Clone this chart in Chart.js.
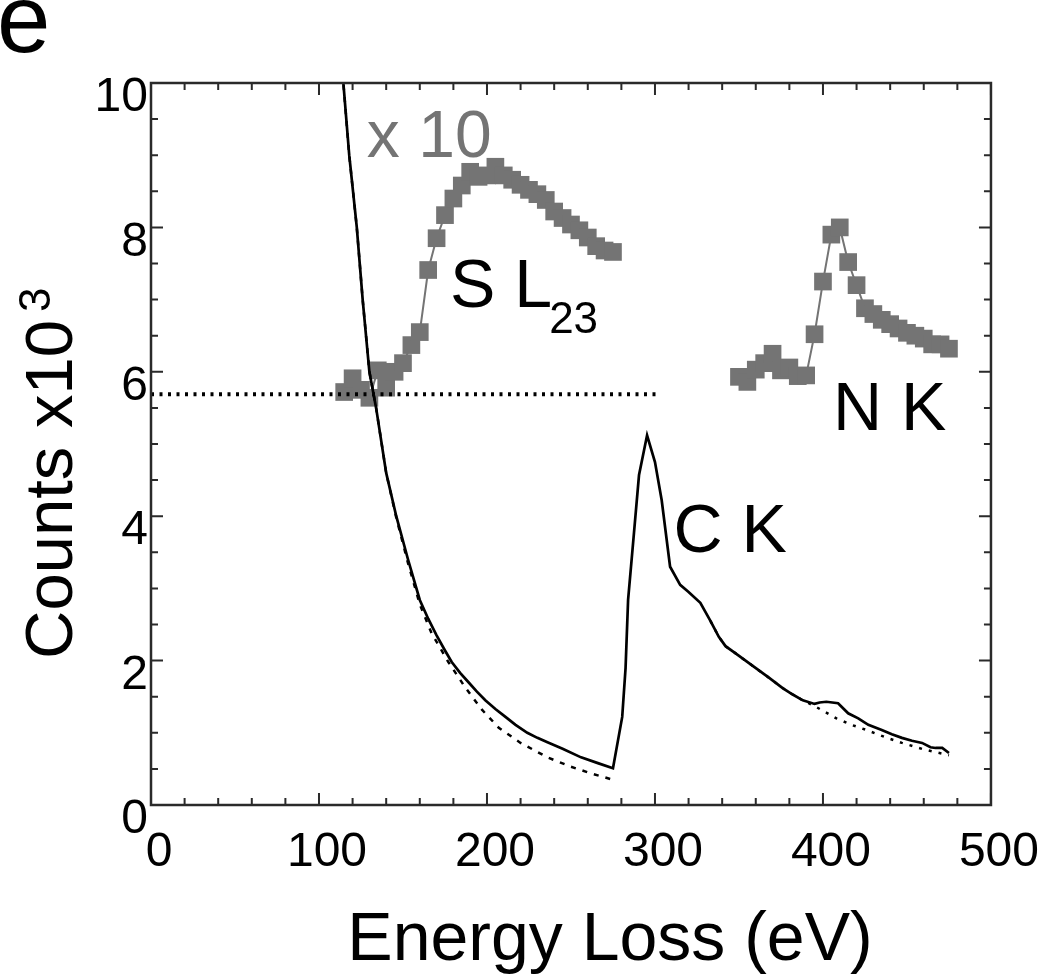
<!DOCTYPE html>
<html>
<head>
<meta charset="utf-8">
<script src="https://cdn.jsdelivr.net/npm/chart.js@4.4.1/dist/chart.umd.min.js"></script>
<style>
  body { margin: 0; background: #fff; }
  #wrap { width: 1050px; height: 975px; }
</style>
</head>
<body>
<div id="wrap"><canvas id="eels" width="1050" height="975"></canvas></div>
<script>
// energy loss (eV) / counts x10^3
const specE = [113, 114.5, 118, 122.5, 126, 130, 134, 140, 146, 153, 160, 165, 170, 175, 179, 184, 189, 194, 199, 205, 211, 217, 224, 230, 236, 245, 256, 266, 275,
  280.5, 282.5, 284, 287.5, 290.5, 295.3, 300, 304, 309, 315, 320, 327, 333, 338, 342, 348, 358, 368, 376, 382, 388, 395,
  398, 402, 409, 415, 421, 427, 435, 441, 447, 453, 459, 464, 467, 471, 475];
const specY = [10.3, 10.0, 9.0, 8.0, 7.0, 6.0, 5.5, 4.6, 4.0, 3.4, 2.84, 2.58, 2.35, 2.14, 1.98, 1.83, 1.7, 1.57, 1.45, 1.33, 1.22, 1.11, 1.0, 0.93, 0.87, 0.78, 0.66, 0.58, 0.51,
  1.22, 1.9, 2.84, 3.77, 4.57, 5.12, 4.75, 4.22, 3.3, 3.05, 2.95, 2.8, 2.55, 2.33, 2.2, 2.1, 1.93, 1.76, 1.62, 1.53, 1.45, 1.40,
  1.42, 1.43, 1.41, 1.27, 1.2, 1.11, 1.04, 0.98, 0.93, 0.89, 0.86, 0.8, 0.79, 0.79, 0.72];

// background fit under S L23 / C K
const bg1E = [113, 114.5, 118, 122.5, 126, 130, 134, 140, 146, 153, 160, 167, 177, 187, 197, 207, 220, 236, 250, 263, 275];
const bg1Y = [10.3, 10.0, 9.0, 8.0, 7.0, 6.0, 5.5, 4.6, 3.98, 3.35, 2.78, 2.38, 1.98, 1.63, 1.32, 1.07, 0.86, 0.66, 0.53, 0.43, 0.35];

// background fit under N K
const bg2E = [333, 338, 342, 348, 358, 368, 376, 382, 388, 395, 408, 417, 427, 437, 447, 460, 475];
const bg2Y = [2.55, 2.33, 2.2, 2.1, 1.93, 1.76, 1.62, 1.53, 1.45, 1.37, 1.2, 1.11, 1.03, 0.94, 0.86, 0.77, 0.69];

// zero level of the x10 traces
const baseE = [0, 303];
const baseY = [5.69, 5.69];

// x10 edges (grey squares)
const sE = [115, 120, 125, 130, 135, 140, 145, 150, 155, 160, 165, 170, 175, 180, 185, 190, 195, 200, 205, 210, 215, 220,
  225, 230, 235, 240, 245, 250, 255, 260, 265, 270, 275];
const sY = [5.72, 5.91, 5.75, 5.64, 6.02, 5.78, 6.0, 6.12, 6.37, 6.55, 7.41, 7.85, 8.17, 8.4, 8.58, 8.77, 8.7, 8.72, 8.84, 8.72, 8.66, 8.59,
  8.52, 8.46, 8.38, 8.22, 8.13, 8.04, 7.96, 7.86, 7.74, 7.68, 7.66];
const nE = [350, 355, 360, 365, 370, 375, 380, 385, 390, 395, 400, 405, 410, 415, 420, 425, 430, 435, 440, 445, 450, 455, 460, 465, 470, 475];
const nY = [5.93, 5.86, 6.03, 6.12, 6.25, 6.02, 6.06, 5.94, 5.95, 6.52, 7.25, 7.9, 8.0, 7.52, 7.2, 6.88, 6.8, 6.72, 6.66, 6.6, 6.54, 6.5,
  6.46, 6.38, 6.38, 6.32];

const xTicks = [0, 100, 200, 300, 400, 500];
const yTicks = [0, 2, 4, 6, 8, 10];

const FONT = "'Liberation Sans', Arial, Helvetica, sans-serif";
const GREY = '#747474';

const pts = (xs, ys) => xs.map((v, i) => ({ x: v, y: ys[i] }));

// box, inward ticks on all four sides, and the labels
const frame = {
  id: 'frame',
  afterDraw(chart) {
    const { ctx, chartArea: a, scales: { x, y } } = chart;
    ctx.save();
    ctx.strokeStyle = '#2a2a2a';
    ctx.lineWidth = 2;
    ctx.beginPath();
    for (let v = 0; v <= 500; v += 20) {
      const px = x.getPixelForValue(v);
      const len = v % 100 === 0 ? 12 : 7;
      ctx.moveTo(px, a.bottom); ctx.lineTo(px, a.bottom - len);
      ctx.moveTo(px, a.top); ctx.lineTo(px, a.top + len);
    }
    for (let v = 0; v <= 10; v += 0.5) {
      const py = y.getPixelForValue(v);
      const len = v % 2 === 0 ? 12 : 7;
      ctx.moveTo(a.left, py); ctx.lineTo(a.left + len, py);
      ctx.moveTo(a.right, py); ctx.lineTo(a.right - len, py);
    }
    ctx.stroke();
    ctx.lineWidth = 2.5;
    ctx.strokeRect(a.left, a.top, a.right - a.left, a.bottom - a.top);

    ctx.textAlign = 'left';
    ctx.textBaseline = 'alphabetic';
    ctx.fillStyle = GREY;
    ctx.font = '66px ' + FONT;
    ctx.fillText('x 10', x.getPixelForValue(128.5), y.getPixelForValue(8.97));

    ctx.fillStyle = '#000';
    ctx.font = '68px ' + FONT;
    ctx.fillText('S L', x.getPixelForValue(178), y.getPixelForValue(6.9));
    ctx.fillText('C K', x.getPixelForValue(311), y.getPixelForValue(3.5));
    ctx.fillText('N K', x.getPixelForValue(406), y.getPixelForValue(5.19));
    ctx.font = '44px ' + FONT;
    ctx.fillText('23', x.getPixelForValue(237), y.getPixelForValue(6.54));

    // panel letter
    ctx.font = '96px ' + FONT;
    ctx.fillText('e', -3, 52);

    // axis titles
    ctx.font = '68px ' + FONT;
    ctx.textAlign = 'center';
    ctx.fillText('Energy Loss (eV)', 610, 960);

    ctx.translate(72, 659);
    ctx.rotate(-Math.PI / 2);
    ctx.textAlign = 'left';
    ctx.font = '67px ' + FONT;
    const w = ctx.measureText('Counts x10').width;
    ctx.fillText('Counts x10', 0, 0);
    ctx.font = '44px ' + FONT;
    ctx.fillText('3', w + 8, -22);
    ctx.restore();
  }
};

new Chart(document.getElementById('eels'), {
  type: 'scatter',
  data: {
    datasets: [
      { data: pts(specE, specY), showLine: true, borderColor: '#000', borderWidth: 2.7, pointRadius: 0, clip: 0 },
      { data: pts(bg1E, bg1Y), showLine: true, borderColor: '#000', borderWidth: 2.5, borderDash: [5, 7], pointRadius: 0, clip: 0 },
      { data: pts(bg2E, bg2Y), showLine: true, borderColor: '#000', borderWidth: 2.5, borderDash: [3, 7], pointRadius: 0 },
      { data: pts(baseE, baseY), showLine: true, borderColor: '#000', borderWidth: 4, borderDash: [3, 5.5], pointRadius: 0 },
      { data: pts(sE, sY), showLine: true, borderColor: GREY, borderWidth: 2, pointStyle: 'rect', pointRadius: 12.5,
        pointBackgroundColor: GREY, pointBorderWidth: 0 },
      { data: pts(nE, nY), showLine: true, borderColor: GREY, borderWidth: 2, pointStyle: 'rect', pointRadius: 12.5,
        pointBackgroundColor: GREY, pointBorderWidth: 0 }
    ]
  },
  options: {
    responsive: false,
    animation: false,
    layout: { padding: { top: 83, right: 54, left: 0, bottom: 0 } },
    plugins: { legend: { display: false }, tooltip: { enabled: false } },
    scales: {
      x: {
        type: 'linear', min: 0, max: 500,
        afterBuildTicks: s => { s.ticks = xTicks.map(v => ({ value: v })); },
        afterFit: s => { s.height = 170; },
        grid: { display: false, drawTicks: false },
        border: { display: false },
        ticks: { font: { family: FONT, size: 48 }, color: '#000', padding: 19, labelOffset: 8, maxRotation: 0, autoSkip: false }
      },
      y: {
        min: 0, max: 10,
        afterBuildTicks: s => { s.ticks = yTicks.map(v => ({ value: v })); },
        afterFit: s => { s.width = 151; },
        grid: { display: false, drawTicks: false },
        border: { display: false },
        ticks: { font: { family: FONT, size: 48 }, color: '#000', padding: 3, labelOffset: 15 }
      }
    }
  },
  plugins: [frame]
});
</script>
</body>
</html>
